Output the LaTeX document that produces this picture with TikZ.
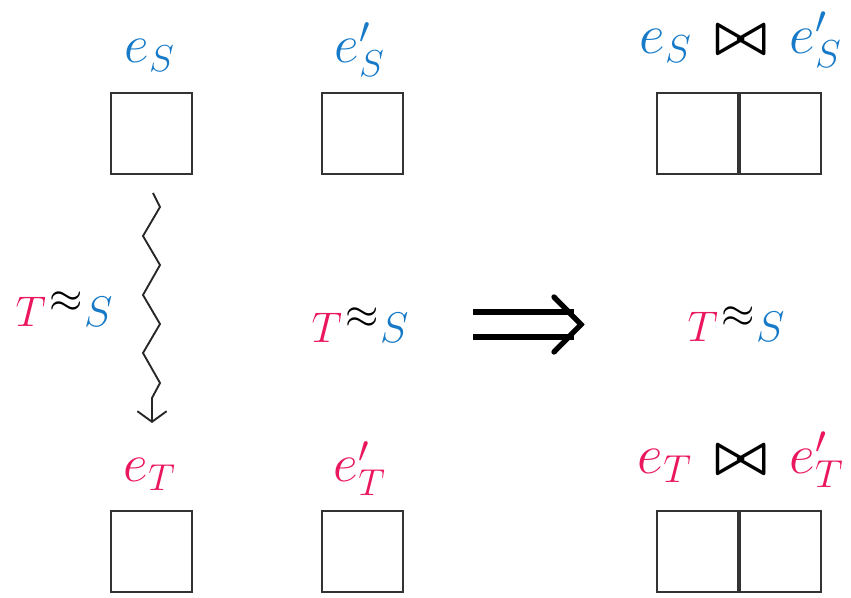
\documentclass[tikz,border=0pt]{standalone}
\usetikzlibrary{arrows.meta,calc}
\definecolor{tred}{RGB}{234,22,94}
\definecolor{sblue}{RGB}{22,122,200}
\newcommand\tas{\textcolor{tred}{$T$}\kern0.09em\raisebox{0.34em}{$\approx$}\kern0.02em\textcolor{sblue}{$S$}}
\newcommand\bjoin{\mathrel{\mkern2mu\mbox{\boldmath$\bowtie$}\mkern2mu}}
\tikzset{
  cell/.style={draw=black!80,line width=1.5pt,minimum size=60.75pt,inner sep=0pt},
  lbl/.style={anchor=base,inner sep=0pt,font=\fontsize{20}{24}\selectfont,scale=1.95},
  rlbl/.style={anchor=base,inner sep=0pt,font=\fontsize{20}{24}\selectfont,scale=2.03},
  rel/.style={anchor=base,inner sep=0pt,font=\fontsize{20}{24}\selectfont,scale=1.55},
  imp/.style={line width=4.5pt,black}
}
\begin{document}
\begin{tikzpicture}[x=0.75pt,y=-0.75pt]
\useasboundingbox (0,0) rectangle (851,598);
% boxes
\node[cell] (bS) at (151.5,133.5) {};
\node[cell] (bSp) at (362,133.5) {};
\node[cell] (bJa) at (697,133.5) {};
\node[cell] (bJb) at (780,133.5) {};
\node[cell] (bT) at (151.5,551.5) {};
\node[cell] (bTp) at (362,551.5) {};
\node[cell] (bKa) at (697,551.5) {};
\node[cell] (bKb) at (780,551.5) {};
% labels
\node[lbl] (lS) at (150,63) {$\textcolor{sblue}{e_S}$};
\node[lbl] (lSp) at (360,63) {$\textcolor{sblue}{e'_S}$};
\node[rlbl] (lJ) at (741,54) {$\textcolor{sblue}{e_S}\bjoin\textcolor{sblue}{e'_S}$};
\node[lbl] (lT) at (150,482) {$\textcolor{tred}{e_T}$};
\node[lbl] (lTp) at (360,482) {$\textcolor{tred}{e'_T}$};
\node[rlbl] (lK) at (741,474) {$\textcolor{tred}{e_T}\bjoin\textcolor{tred}{e'_T}$};
% relation labels
\node[rel] (r1) at (64,327) {\tas};
\node[rel] (r2) at (360,343) {\tas};
\node[rel] (r3) at (736,342) {\tas};
% squiggly arrow
\coordinate (zs) at ($(bS.south)+(1.5,18)$);
\draw[line width=1.4pt,black!85,line join=miter,-{Straight Barb[length=8pt,width=22pt,line width=1.4pt]}]
  (zs) -- ++(7,14) -- ++(-17,29) -- ++(17,29) -- ++(-17,30) -- ++(17,29)
  -- ++(-17,29) -- ++(17,30) -- ++(-8,15) -- ++(0,25);
% implication arrow
\draw[imp] (473,312) -- (574,312);
\draw[imp] (473,337) -- (574,337);
\draw[imp,line width=4pt,line cap=round,line join=miter] (554,297) -- (581,324.5) -- (554,352);
\end{tikzpicture}
\end{document}
